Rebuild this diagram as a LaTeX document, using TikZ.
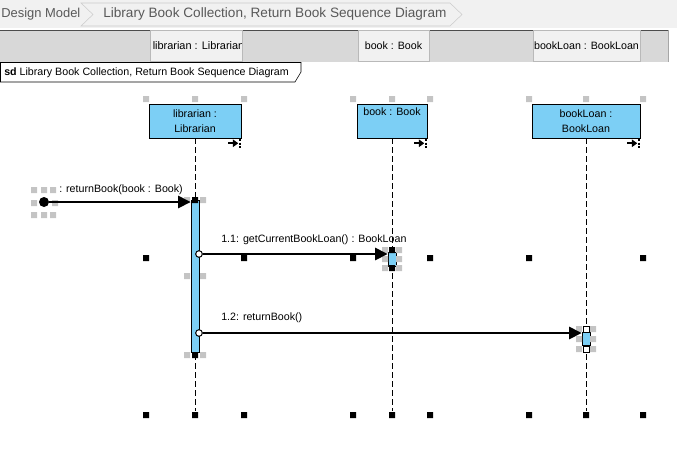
\documentclass[tikz,border=0pt]{standalone}
\usepackage{fontspec}
\setmainfont{Liberation Sans}
\usepackage{tikz}
\usetikzlibrary{positioning}
\usetikzlibrary{arrows.meta}
\definecolor{lifeblue}{RGB}{124,207,245}
\definecolor{barbg}{RGB}{241,241,241}
\definecolor{headbg}{RGB}{216,216,216}
\definecolor{gripgrey}{RGB}{196,196,196}
\newcommand{\grip}[2]{(#1-3,#2-3) rectangle (#1+3,#2+3)}
\newcommand{\stopflag}[1]{%
  \draw[-{Triangle[length=4pt,width=5.5pt]}, line width=1.3pt] ([shift={(-13,5)}]#1.south east) -- ++(10,0);
  \draw[dash pattern=on 1.5pt off 1pt, line width=1.3pt] ([shift={(-1.5,1)}]#1.south east) -- ++(0,9);}

\begin{document}
\begin{tikzpicture}[x=0.75pt,y=-0.75pt,
  lbl/.style={font=\fontsize{8pt}{9.6pt}\selectfont, inner sep=0pt},
  head/.style={draw, fill=lifeblue, minimum height=25.5pt, inner sep=0pt, align=center, font=\fontsize{8pt}{11.25pt}\selectfont},
  act/.style={draw, fill=lifeblue, minimum width=6pt, inner sep=0pt},
  cell/.style={draw=gray!55, fill=barbg, minimum height=23pt, inner sep=0pt, font=\fontsize{8pt}{9.6pt}\selectfont},
  lifeline/.style={dash pattern=on 4.5pt off 2.25pt, line width=0.75pt},
  msg/.style={line width=2.2pt, -{Triangle[length=9.5pt,width=9pt]}},
  crumb/.style={text=black!65, font=\fontsize{10.2pt}{12pt}\selectfont, inner sep=0pt, anchor=west}]
\useasboundingbox (0,0) rectangle (677,469);

% breadcrumb bar
\fill[barbg] (0,0) rectangle (677,28);
\node[crumb, font=\fontsize{9.7pt}{12pt}\selectfont] (crumbModel) at (1,14) {Design Model};
\draw[gray!40] (81,3) -- (450,3) -- (462,14.5) -- (450,26) -- (81,26) -- (93,14.5) -- cycle;
\node[crumb] (crumbDiagram) at (103,14) {Library Book Collection, Return Book Sequence Diagram};

% lifeline header bar
\fill[headbg] (0,30) rectangle (668,62);
\draw[black!70] (0,30.5) -- (668,30.5);
\draw[gray!70] (668,30) -- (668,62);
\node[cell, minimum width=69pt] (cellLibrarian) at (196,46) {};
\begin{scope}
  \clip (151,31) rectangle (241,61);
  \node[lbl, anchor=west] (cellLibrarianText) at (152.5,46) {\fontsize{8.2pt}{9.6pt}\selectfont librarian : Librarian};
\end{scope}
\node[cell, minimum width=53.25pt] (cellBook) at (393.5,46) {book : Book};
\node[cell, minimum width=80.25pt] (cellBookLoan) at (586.5,46) {bookLoan : BookLoan};

% sd frame tab
\draw[fill=white] (0.5,62.5) -- (301,62.5) -- (301,72) -- (295,82) -- (0.5,82) -- cycle;
\node[lbl, anchor=west] (sdName) at (4,72.5) {\textbf{sd} Library Book Collection, Return Book Sequence Diagram};

% lifelines
\node[head, minimum width=69pt] (librarian) at (195,121) {librarian :\\Librarian};
\node[head, minimum width=52.5pt] (book) at (392,121) {};
\node[lbl, below=3pt of book.north] (bookName) {book : Book};
\node[head, minimum width=81pt] (bookLoan) at (586,121) {bookLoan :\\BookLoan};
\stopflag{librarian}
\stopflag{book}
\stopflag{bookLoan}
\coordinate (librarianEnd) at (195,411);
\coordinate (bookEnd) at (392,411);
\coordinate (bookLoanEnd) at (586,411);
\draw[lifeline] (librarian) -- (librarianEnd);
\draw[lifeline] (book) -- (bookEnd);
\draw[lifeline] (bookLoan) -- (bookLoanEnd);

% selection handles
\fill[gripgrey] \grip{146}{99} \grip{195}{99} \grip{244}{99} \grip{353}{99} \grip{392}{99} \grip{430}{99}
  \grip{529}{99} \grip{586}{99} \grip{643}{99};
\fill \grip{146}{258} \grip{244}{258} \grip{353}{258} \grip{430}{258} \grip{529}{258} \grip{643}{258}
  \grip{146}{415} \grip{195}{415} \grip{244}{415} \grip{353}{415} \grip{392}{415} \grip{430}{415}
  \grip{529}{415} \grip{586}{415} \grip{643}{415};
\fill[gripgrey] \grip{34}{190} \grip{44}{190} \grip{53}{190} \grip{34}{203} \grip{55}{203}
  \grip{34}{215} \grip{44}{215} \grip{53}{215};

% activations
\node[act, minimum height=114pt] (actLibrarian) at (195,276) {};
\node[act, minimum height=10.5pt] (actBook) at (392,259) {};
\node[act, minimum height=9.75pt] (actBookLoan) at (586,339) {};
\fill[gripgrey] \grip{187}{200} \grip{203}{200} \grip{187}{276} \grip{203}{276} \grip{187}{355} \grip{203}{355}
  \grip{385}{250} \grip{399}{250} \grip{385}{259} \grip{399}{259} \grip{385}{268} \grip{399}{268}
  \grip{579}{329} \grip{593}{329} \grip{579}{339} \grip{593}{339} \grip{579}{349} \grip{593}{349};
\fill \grip{195}{200} \grip{195}{355} \grip{392}{250} \grip{392}{268};
\draw[fill=white, line width=0.75pt] (583,326) rectangle (589,332) (583,346) rectangle (589,352);

% messages
\node[circle, fill, minimum size=7.5pt, inner sep=0pt] (found) at (44,202) {};
\draw[msg] (found) -- (found -| actLibrarian.west);
\node[lbl, anchor=west] (msgReturnBook) at (59,190) {: returnBook(book : Book)};
\node[circle, draw, fill=white, minimum size=5pt, inner sep=0pt, line width=0.75pt] (startLoan) at (199,254) {};
\draw[msg] (startLoan) -- (startLoan -| actBook.west);
\node[lbl, anchor=west] (msgGetLoan) at (221,240) {1.1: getCurrentBookLoan() : BookLoan};
\node[circle, draw, fill=white, minimum size=5pt, inner sep=0pt, line width=0.75pt] (startReturn) at (199,333) {};
\draw[msg] (startReturn) -- (startReturn -| actBookLoan.west);
\node[lbl, anchor=west] (msgReturnLoan) at (221,318) {1.2: returnBook()};
\end{tikzpicture}
\end{document}
